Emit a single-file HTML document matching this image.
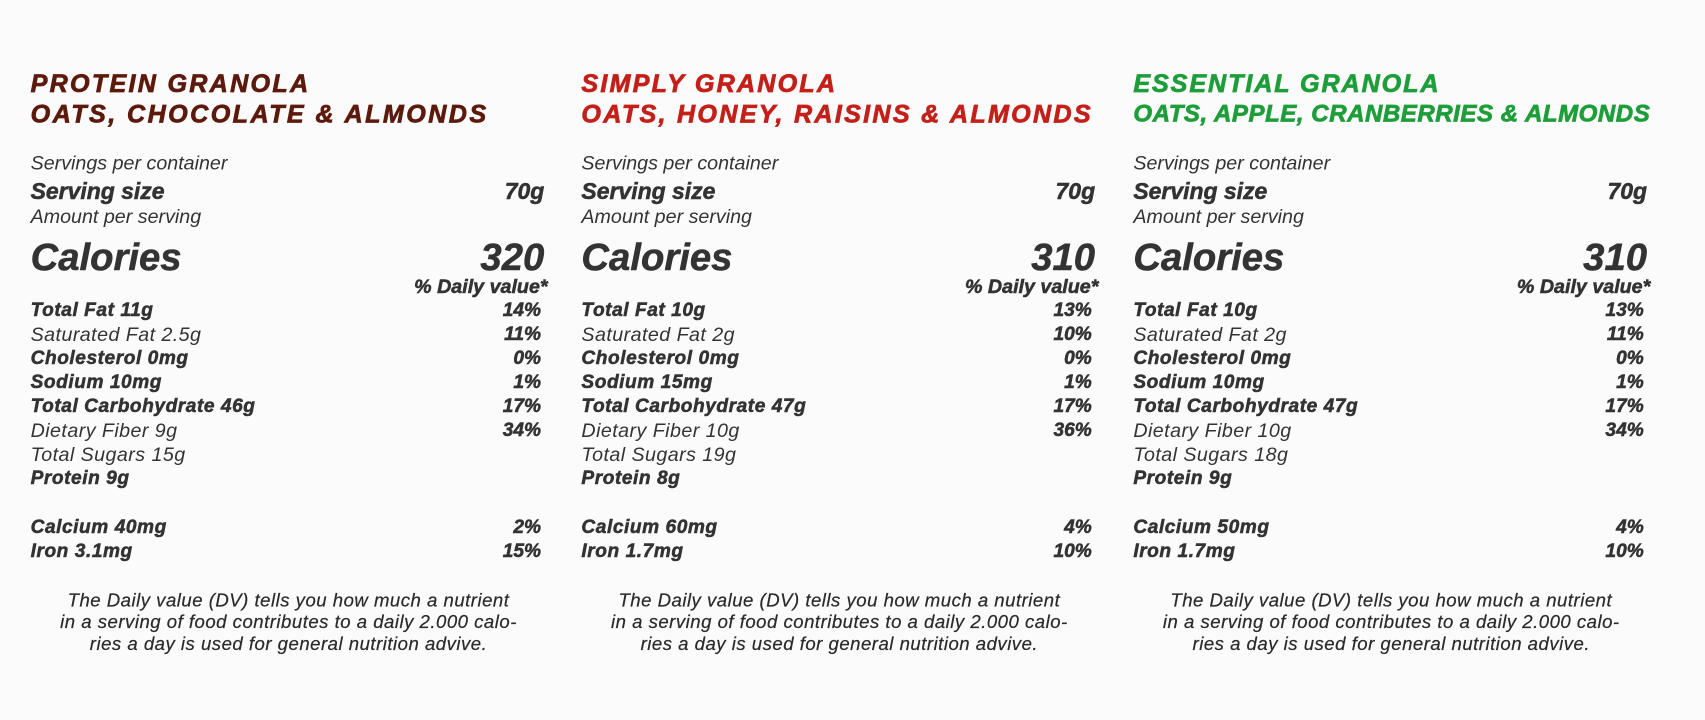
<!DOCTYPE html>
<html><head><meta charset="utf-8">
<style>
html,body{margin:0;padding:0;background:#fbfbfb;}
#wrap{position:relative;width:1705px;height:720px;overflow:hidden;background:#fbfbfb;}
#inner{position:absolute;left:0;top:0;width:1560px;height:659px;transform:scale(1.0929,1.0926);transform-origin:0 0;font-family:"Liberation Sans",sans-serif;color:#333;}
.col{position:absolute;top:0;width:470px;height:659px;}
.t{position:absolute;white-space:nowrap;font-style:italic;}
.b{font-weight:bold;-webkit-text-stroke:0.5px currentColor;}
.r{right:0;text-align:right;}
.title{font-weight:bold;font-size:23px;line-height:23px;-webkit-text-stroke:0.7px currentColor;}
.foot{position:absolute;left:-6px;width:484px;text-align:center;font-style:italic;font-size:17px;letter-spacing:0.45px;line-height:20px;top:540px;color:#2a2a2a;-webkit-text-stroke:0.2px currentColor;}
</style></head>
<body>
<div id="wrap"><div id="inner"></div></div>
<script>
const products = ['PROTEIN GRANOLA','SIMPLY GRANOLA','ESSENTIAL GRANOLA'];
const subtitles = ['OATS, CHOCOLATE & ALMONDS','OATS, HONEY, RAISINS & ALMONDS','OATS, APPLE, CRANBERRIES & ALMONDS'];
const colors = ['#5c1a0c','#c4201a','#1e9e3a'];
const calories = ['320','310','310'];
const fat = [['Total Fat 11g','14%'],['Total Fat 10g','13%'],['Total Fat 10g','13%']];
const satFat = [['Saturated Fat 2.5g','11%'],['Saturated Fat 2g','10%'],['Saturated Fat 2g','11%']];
const chol = [['Cholesterol 0mg','0%'],['Cholesterol 0mg','0%'],['Cholesterol 0mg','0%']];
const sodium = [['Sodium 10mg','1%'],['Sodium 15mg','1%'],['Sodium 10mg','1%']];
const carbs = [['Total Carbohydrate 46g','17%'],['Total Carbohydrate 47g','17%'],['Total Carbohydrate 47g','17%']];
const fiber = [['Dietary Fiber 9g','34%'],['Dietary Fiber 10g','36%'],['Dietary Fiber 10g','34%']];
const sugars = [['Total Sugars 15g',''],['Total Sugars 19g',''],['Total Sugars 18g','']];
const protein = [['Protein 9g',''],['Protein 8g',''],['Protein 9g','']];
const calcium = [['Calcium 40mg','2%'],['Calcium 60mg','4%'],['Calcium 50mg','4%']];
const iron = [['Iron 3.1mg','15%'],['Iron 1.7mg','10%'],['Iron 1.7mg','10%']];

const inner = document.getElementById('inner');
const colX = [28,532,1037];
const titleW = [256,234,281];
const subW = [419,468,473];
const subFs = [23,23,22];
function txt(parent, s, cls, cy, fs, right, color){
  const d = document.createElement('div');
  d.className = 't ' + cls + (right ? ' r' : '');
  d.textContent = s;
  d.style.fontSize = fs + 'px';
  d.style.lineHeight = fs + 'px';
  d.style.top = (cy - fs/2 - 1) + 'px';
  if (!right) d.style.left = '0px';
  if (color) d.style.color = color;
  parent.appendChild(d);
  return d;
}
function fit(el, target){
  const w = el.getBoundingClientRect().width / 1.0929;
  const n = el.textContent.length;
  el.style.letterSpacing = ((target - w) / n) + 'px';
}
products.forEach((p, i) => {
  const col = document.createElement('div');
  col.className = 'col';
  col.style.left = colX[i] + 'px';
  
  
  inner.appendChild(col);
  let e;
  e = txt(col, p, 'title', 77, 23, false, colors[i]);
  fit(e, titleW[i]);
  
  
  e = txt(col, subtitles[i], 'title', 105, subFs[i], false, colors[i]);
  fit(e, subW[i]);
  
  
  e = txt(col, 'Servings per container', '', 150, 18, false);
  
  
  e = txt(col, 'Serving size', 'b', 176, 21, false);
  
  
  e = txt(col, '70g', 'b', 176, 21, true);
  
  
  e = txt(col, 'Amount per serving', '', 199, 18, false);
  
  
  e = txt(col, 'Calories', 'b', 236, 35, false);
  
  
  e = txt(col, calories[i], 'b', 236, 35, true);
  
  
  e = txt(col, '% Daily value*', 'b', 263, 18, true);
  e.style.right = '-3px';
  
  
  const rows = [[fat,1,285],[satFat,0,307],[chol,1,329],[sodium,1,351],[carbs,1,373],[fiber,0,395],[sugars,0,417],[protein,1,439],[calcium,1,484],[iron,1,506]];
  rows.forEach(([arr, bold, y]) => {
    const [label, pct] = arr[i];
    const cls = bold ? 'b' : '';
    const l = txt(col, label, cls, y, bold ? 17.5 : 18, false);
    l.style.letterSpacing = bold ? '0.5px' : '0.4px';
    
    
    if (pct) {
      const v = txt(col, pct, 'b', y, 17.5, true);
      v.style.right = '3px';
      
      
    }
  });
  const f = document.createElement('div');
  f.className = 'foot';
  f.innerHTML = 'The Daily value (DV) tells you how much a nutrient<br>in a serving of food contributes to a daily 2.000 calo-<br>ries a day is used for general nutrition advive.';
  
  
  col.appendChild(f);
});
</script>
</body></html>
